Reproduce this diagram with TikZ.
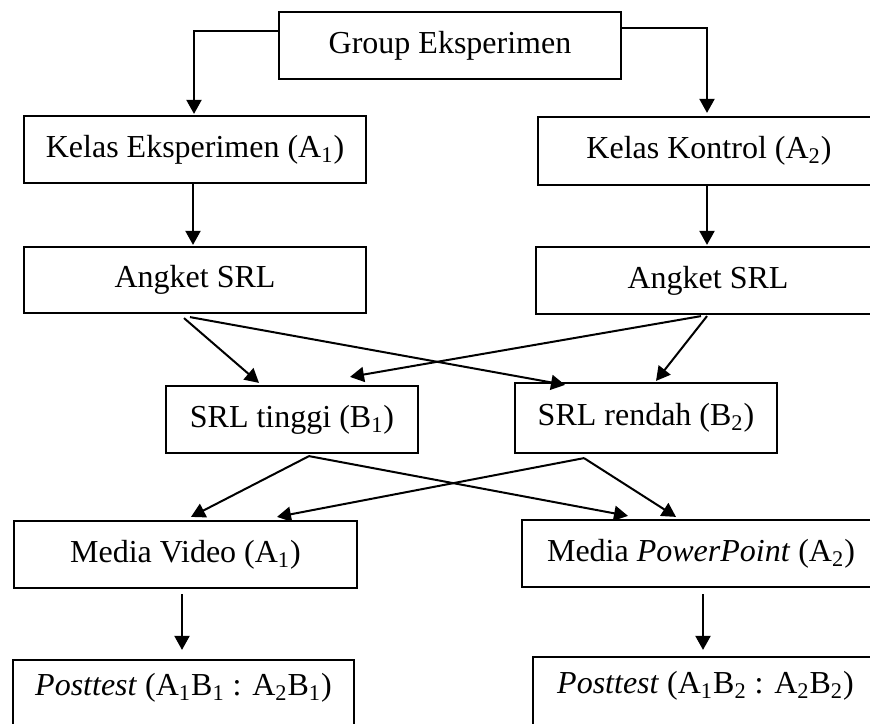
\documentclass[tikz,border=0pt]{standalone}
\usepackage{fontspec}
\setmainfont{Liberation Serif}
\usetikzlibrary{arrows.meta,calc}
\begin{document}
\begin{tikzpicture}[x=0.5pt,y=-0.5pt,
  box/.style={draw, line width=1.1pt, inner sep=0pt, font=\fontsize{16}{19}\selectfont},
  txt/.style={inner sep=0pt, font=\fontsize{16}{19}\selectfont},
  arr/.style={line width=1pt, -{Triangle[length=7pt,width=7.5pt]}}]
\useasboundingbox (0,0) rectangle (870,723);
\clip (0,0) rectangle (870,723);
\node[box, minimum width=171pt, minimum height=33.5pt] (g) at (450,45.5) {Group Eksperimen};
\node[box, minimum width=171pt, minimum height=33.5pt] (ke) at (195,149.5) {Kelas Eksperimen (A\textsubscript{1})};
\node[box, minimum width=171pt, minimum height=34pt] (kk) at (709,151) {Kelas Kontrol (A\textsubscript{2})};
\node[box, minimum width=171pt, minimum height=33pt] (al) at (195,280) {Angket SRL};
\node[box, minimum width=172pt, minimum height=33.5pt] (ar) at (708,280.5) {Angket SRL};
\node[box, minimum width=126pt, minimum height=33.5pt] (b1) at (292,419.5) {SRL tinggi (B\textsubscript{1})};
\node[box, minimum width=131pt, minimum height=35pt] (b2) at (646,418) {SRL rendah (B\textsubscript{2})};
\node[box, minimum width=171.5pt, minimum height=33.5pt] (mv) at (185.5,554.5) {Media Video (A\textsubscript{1})};
\node[box, minimum width=179pt, minimum height=33.5pt] (mp) at (701,553.5) {Media \textit{PowerPoint} (A\textsubscript{2})};
\node[box, minimum width=170.5pt, minimum height=45pt] (ptl) at (183.5,705) {};
\node[txt] (ptlt) at (183.5,688) {\textit{Posttest} (A\textsubscript{1}B\textsubscript{1} : A\textsubscript{2}B\textsubscript{1})};
\node[box, minimum width=172.5pt, minimum height=45pt] (ptr) at (705.5,702) {};
\node[txt] (ptrt) at (705.5,686) {\textit{Posttest} (A\textsubscript{1}B\textsubscript{2} : A\textsubscript{2}B\textsubscript{2})};
% top
\draw[arr] ($(g.west)+(0,-14.5)$) -| ($(ke.north)+(-1,-1)$);
\draw[arr] ($(g.east)+(0,-17.5)$) -| ($(kk.north)+(-2,-3)$);
\draw[arr] ($(ke.south)+(-2,0)$) -- ($(al.north)+(-2,-1)$);
\draw[arr] ($(kk.south)+(-2,0)$) -- ($(ar.north)+(-1,-1)$);
% Angket -> SRL
\draw[arr] ($(al.south)+(-11,4)$) -- ($(b1.north)+(-33,-2)$);
\draw[arr] ($(al.south)+(-5,3)$) -- ($(b2.north)+(-81,3)$);
\draw[arr] ($(ar.south)+(-7,1)$) -- ($(b1.north)+(58,-8)$);
\draw[arr] ($(ar.south)+(-1,1)$) -- ($(b2.north)+(10,-1)$);
% SRL -> Media
\draw[arr] ($(b1.south)+(17,2)$) -- ($(mv.north)+(5.5,-3)$);
\draw[arr] ($(b1.south)+(17,2)$) -- ($(mp.north)+(-73,-3)$);
\draw[arr] ($(b2.south)+(-62,4)$) -- ($(mv.north)+(91.5,-3)$);
\draw[arr] ($(b2.south)+(-62,4)$) -- ($(mp.north)+(-25,-2)$);
% Media -> Posttest
\draw[arr] ($(mv.south)+(-3.5,5)$) -- ($(ptl.north)+(-1.5,-9)$);
\draw[arr] ($(mp.south)+(2,6)$) -- ($(ptr.north)+(-2.5,-6)$);
\end{tikzpicture}
\end{document}
